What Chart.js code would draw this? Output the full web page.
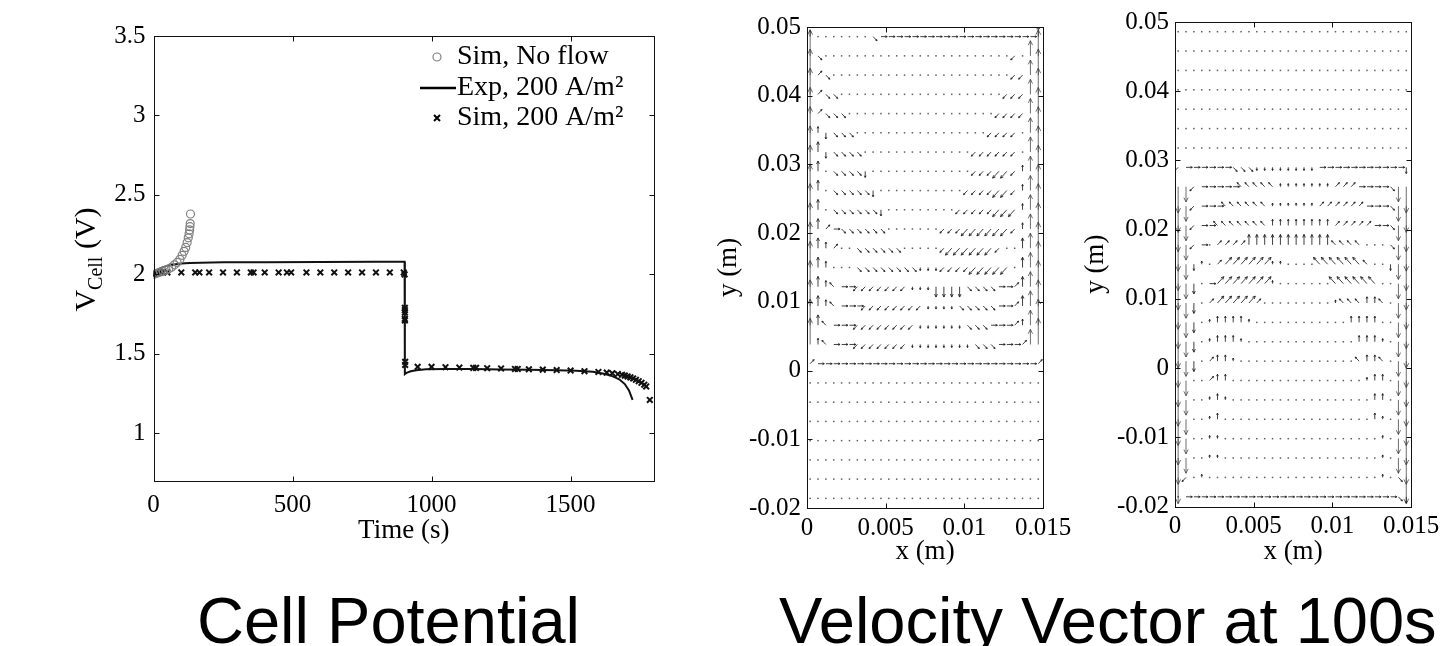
<!DOCTYPE html>
<html><head><meta charset="utf-8">
<script src="https://cdn.jsdelivr.net/npm/chart.js@4.4.1/dist/chart.umd.min.js"></script>
<style>
html,body{margin:0;padding:0;background:#fff;}
#wrap{position:relative;width:1450px;height:646px;overflow:hidden;background:#fff;}
canvas{position:absolute;top:0;}
.cap{position:absolute;font-family:"Liberation Sans",Arial,sans-serif;font-size:65px;line-height:65px;color:#000;white-space:nowrap;}
</style></head><body>
<div id="wrap">
<canvas id="c1" width="700" height="575" style="left:0px"></canvas>
<canvas id="c2" width="400" height="575" style="left:690px"></canvas>
<canvas id="c3" width="390" height="575" style="left:1060px"></canvas>
<div class="cap" style="left:197px;top:588px">Cell Potential</div>
<div class="cap" style="left:779px;top:588px">Velocity Vector at 100s</div>
</div>
<script>
// ---------------- Cell potential data ----------------
const noFlowT = [0, 8, 16, 25, 35, 45, 55, 65, 75, 85, 95, 103, 110, 116, 121, 125, 128, 130, 131, 132, 133];
const noFlowV = [2.0, 2.005, 2.01, 2.015, 2.02, 2.027, 2.035, 2.045, 2.06, 2.075, 2.095, 2.12, 2.145, 2.17, 2.2, 2.23, 2.255, 2.28, 2.3, 2.32, 2.38];

const expT = [0, 5, 10, 20, 30, 45, 60, 80, 100, 130, 170, 250, 400, 600, 800, 903, 904, 906, 912, 925, 945, 980, 1050, 1150, 1250, 1350, 1450, 1520, 1580, 1620, 1650, 1675, 1695, 1710, 1723];
const expV = [2.0, 2.012, 2.022, 2.035, 2.043, 2.052, 2.058, 2.064, 2.068, 2.072, 2.074, 2.076, 2.077, 2.078, 2.079, 2.08, 1.373, 1.376, 1.382, 1.39, 1.397, 1.403, 1.405, 1.404, 1.402, 1.4, 1.397, 1.393, 1.387, 1.375, 1.36, 1.34, 1.31, 1.27, 1.21];

const simT = [0, 3, 6, 10, 14, 18, 23, 28, 35, 50, 100, 150, 165, 200, 250, 300, 350, 360, 400, 450, 480, 495, 550, 600, 650, 700, 750, 800, 850, 900,
  903, 904, 904, 904, 904, 904, 905, 905,
  950, 1000, 1050, 1100, 1150, 1160, 1200, 1250, 1300, 1310, 1350, 1400, 1450, 1500, 1550, 1600, 1630, 1650, 1670, 1685, 1695, 1705, 1715, 1725, 1735, 1745, 1755, 1765, 1772, 1785];
const simV = [2.0, 2.0, 2.003, 2.006, 2.008, 2.01, 2.012, 2.013, 2.013, 2.012, 2.012, 2.012, 2.012, 2.012, 2.012, 2.012, 2.012, 2.012, 2.012, 2.012, 2.012, 2.012, 2.012, 2.012, 2.012, 2.012, 2.012, 2.012, 2.012, 2.012,
  2.0, 1.79, 1.775, 1.76, 1.72, 1.71, 1.45, 1.43,
  1.418, 1.418, 1.416, 1.414, 1.412, 1.412, 1.41, 1.408, 1.405, 1.405, 1.403, 1.401, 1.398, 1.395, 1.391, 1.386, 1.382, 1.378, 1.373, 1.368, 1.363, 1.358, 1.352, 1.345, 1.337, 1.328, 1.318, 1.306, 1.295, 1.21];

const seriesNames = ['Sim, No flow', 'Exp, 200 A/m\u00B2', 'Sim, 200 A/m\u00B2'];
const timeTicks = [0, 500, 1000, 1500];
const timeTickLabels = ['0', '500', '1000', '1500'];
const vTicks = [1, 1.5, 2, 2.5, 3, 3.5];
const vTickLabels = ['1', '1.5', '2', '2.5', '3', '3.5'];

// ---------------- Velocity vector data ----------------
const gridX = [0.0002, 0.0007, 0.0012, 0.0017, 0.0022, 0.0027, 0.0032, 0.0037, 0.0042, 0.0047, 0.0052, 0.0057, 0.0062, 0.0067, 0.0072, 0.0077, 0.0082, 0.0087, 0.0092, 0.0097, 0.0102, 0.0107, 0.0112, 0.0117, 0.0122, 0.0127, 0.0132, 0.0137, 0.0142, 0.0147];
const gridY = [0.0486, 0.0458, 0.0430, 0.0402, 0.0374, 0.0346, 0.0318, 0.0290, 0.0262, 0.0234, 0.0206, 0.0178, 0.0150, 0.0122, 0.0094, 0.0066, 0.0038, 0.0010, -0.0018, -0.0046, -0.0074, -0.0102, -0.0130, -0.0158, -0.0186];
// glyph -> [u, v] in units of 0.1 mm (arrow displacement)
const VEC = {
  '.': [0, 0], '-': [4, 0],
  '2': [0, -9], '8': [0, 9], '1': [-2.5, -6], '3': [2.5, -6], '7': [-2.5, 6], '9': [2.5, 6],
  'i': [0, 4.5], '!': [0, -4.5],
  'd': [0, -15], 'u': [0, 15],
  'l': [-4, -10], 'r': [4, -10], 'L': [-4, 10], 'R': [4, 10],
  'v': [0, -22], '^': [0, 22],
  'D': [0, -38], 'U': [0, 38]
};
// rows from top (y=0.0486) to bottom (y=-0.0186); "(n c)" = n copies of c
const fieldA = [
  "8(7.)3(20-)u",
  "U3(24.)1.^U",
  "U93(23.)11^U",
  "U933(21.)111^U",
  "U9333(19.)1111^U",
  "U82333(17.)1111.^U",
  "Uu23333(14.)111111.^U",
  "Uu.33332(13.)111ll18^U",
  "Uu.333332(11.)1111ll18^U",
  "Uu.3333332(9.)11111lll8^U",
  "Uu9-333333(7.)111llllll18^U",
  "Uu89..333333(5.)1llllll1..u^U",
  "Uu8...33333333!!!1111lllll.u^U",
  "Uu87--1111111!!!dddd3333--9u^U",
  "Uu87---11111111!!!!33333--9u^U",
  "Uu7---11111111!!!!!!333---98^U",
  "U87---1111111!!!!!!!!333---9^U",
  "9(28-)9",
  "(30.)", "(30.)", "(30.)", "(30.)", "(30.)", "(30.)", "(30.)"
];
const fieldB = [
  "(30.)", "(30.)", "(30.)", "(30.)", "(30.)", "(30.)", "(30.)",
  "1(6-)333(8!)(11-)2",
  "Dv1(5-)77777(7i)999(4-)3vD",
  "Dv1(3-)777777(6i)999999(3-)3vD",
  "Dv1--77777778888888899999--3vD",
  "Dv1-.9999(11u)7777...3vD",
  "Dv2i.9RRRRRRii....LLLLLL7..2vD",
  "Dvd.-RRRRRRRi(7.)LLLLLL..vD",
  "Dvd.9RRRRR9(9.)i777887.vD",
  "Dvd.i8888i(12.)8888..vD",
  "Dvd.i888i(14.)888i.vD",
  "Dvd.988i(15.)7887.vD",
  "Dv..988(17.)i88.vD",
  "Dv..i8i(18.)88.vD",
  "Dv..i8(19.)8i.vD",
  "Dv..ii(20.)i.vD",
  "Dv..ii(20.)i.vD",
  "D1.i(22.)i.3D",
  ".(27-)32"
];
const xTicksQ = [0, 0.005, 0.01, 0.015];
const xTickLabelsQ = ['0', '0.005', '0.01', '0.015'];
const yTicksQ = [-0.02, -0.01, 0, 0.01, 0.02, 0.03, 0.04, 0.05];
const yTickLabelsQ = ['-0.02', '-0.01', '0', '0.01', '0.02', '0.03', '0.04', '0.05'];
const QK = 0.0001; // metres per vector unit

// ---------------- helpers ----------------
const SERIF = '"Liberation Serif", "Times New Roman", serif';
Chart.defaults.color = '#000';
const zip = (a, b) => a.map((v, i) => ({x: v, y: b[i]}));
function expandRow(s) {
  let out = s.replace(/\((\d+)(.)\)/g, (m, n, c) => c.repeat(+n));
  if (out.length < 30) out += '.'.repeat(30 - out.length);
  return out.slice(0, 30);
}

const boxPlugin = {
  id: 'box',
  afterDraw(chart) {
    const {ctx, chartArea: a, scales: {x, y}} = chart;
    ctx.save();
    ctx.strokeStyle = '#111'; ctx.lineWidth = 1;
    const L = Math.round(a.left) + 0.5, T = Math.round(a.top) + 0.5, R = Math.round(a.right) + 0.5, B = Math.round(a.bottom) + 0.5;
    ctx.strokeRect(L, T, R - L, B - T);
    const tl = 5;
    ctx.beginPath();
    x.ticks.forEach(t => {
      const p = Math.round(x.getPixelForValue(t.value)) + 0.5;
      ctx.moveTo(p, T); ctx.lineTo(p, T + tl);
      ctx.moveTo(p, B); ctx.lineTo(p, B - tl);
    });
    y.ticks.forEach(t => {
      const p = Math.round(y.getPixelForValue(t.value)) + 0.5;
      ctx.moveTo(L, p); ctx.lineTo(L + tl, p);
      ctx.moveTo(R, p); ctx.lineTo(R - tl, p);
    });
    ctx.stroke();
    ctx.restore();
  }
};

const legendPlugin = {
  id: 'legendBox',
  afterDraw(chart) {
    const {ctx, chartArea: a} = chart;
    const x0 = a.right - 197;
    const rows = [a.top + 21, a.top + 52, a.top + 82];
    ctx.save();
    ctx.font = '28px ' + SERIF; ctx.textBaseline = 'middle'; ctx.fillStyle = '#000';
    chart.data.datasets.forEach((d, i) => ctx.fillText(d.label, x0, rows[i]));
    ctx.strokeStyle = '#808080'; ctx.lineWidth = 1.2;
    ctx.beginPath(); ctx.arc(x0 - 20, rows[0], 4, 0, Math.PI * 2); ctx.stroke();
    ctx.strokeStyle = '#000'; ctx.lineWidth = 2.5;
    ctx.beginPath(); ctx.moveTo(x0 - 37, rows[1]); ctx.lineTo(x0 - 1, rows[1]); ctx.stroke();
    ctx.lineWidth = 2;
    const c = x0 - 20, r = rows[2], s = 3;
    ctx.beginPath(); ctx.moveTo(c - s, r - s); ctx.lineTo(c + s, r + s); ctx.moveTo(c + s, r - s); ctx.lineTo(c - s, r + s); ctx.stroke();
    ctx.restore();
  }
};

const vTitlePlugin = {
  id: 'vtitle',
  afterDraw(chart) {
    const ctx = chart.ctx;
    const a = chart.chartArea;
    ctx.save();
    ctx.translate(85, (a.top + a.bottom) / 2 + 1);
    ctx.rotate(-Math.PI / 2);
    ctx.fillStyle = '#000';
    const big = '30px ' + SERIF, small = '20px ' + SERIF;
    ctx.font = big; const wV = ctx.measureText('V').width; const wP = ctx.measureText(' (V)').width;
    ctx.font = small; const wC = ctx.measureText('Cell').width;
    let x = -(wV + wC + wP) / 2;
    ctx.font = big; ctx.fillText('V', x, 10); x += wV;
    ctx.font = small; ctx.fillText('Cell', x, 17); x += wC;
    ctx.font = big; ctx.fillText(' (V)', x, 10);
    ctx.restore();
  }
};

const quiverPlugin = {
  id: 'quiver',
  afterDatasetsDraw(chart) {
    const {ctx, chartArea: a, scales: {x, y}} = chart;
    const meta = chart.getDatasetMeta(0);
    const data = chart.data.datasets[0].data;
    ctx.save();
    ctx.beginPath(); ctx.rect(a.left, a.top, a.right - a.left, a.bottom - a.top); ctx.clip();
    ctx.lineWidth = 1;
    data.forEach((d, i) => {
      const el = meta.data[i];
      const x0 = el.x, y0 = el.y;
      if (d.u === 0 && d.v === 0) {
        ctx.fillStyle = 'rgba(40,40,40,0.75)';
        ctx.fillRect(x0 - 0.75, y0 - 0.75, 1.5, 1.5);
        return;
      }
      const x1 = x.getPixelForValue(d.x + d.u * QK), y1 = y.getPixelForValue(d.y + d.v * QK);
      const dx = x1 - x0, dy = y1 - y0, len = Math.hypot(dx, dy);
      ctx.strokeStyle = len > 14 ? 'rgba(60,60,60,0.75)' : 'rgba(30,30,30,0.85)';
      const h = Math.min(Math.max(len * 0.32, 1.8), 5.5), ang = Math.atan2(dy, dx), w = 0.45;
      ctx.beginPath();
      ctx.moveTo(x0, y0); ctx.lineTo(x1, y1);
      ctx.moveTo(x1 - h * Math.cos(ang - w), y1 - h * Math.sin(ang - w));
      ctx.lineTo(x1, y1);
      ctx.lineTo(x1 - h * Math.cos(ang + w), y1 - h * Math.sin(ang + w));
      ctx.stroke();
    });
    ctx.restore();
  }
};

const tickFont = {family: SERIF, size: 25};
const titleFont = {family: SERIF, size: 27};

// ---------------- Chart 1: cell potential ----------------
new Chart(document.getElementById('c1'), {
  type: 'scatter',
  data: {
    datasets: [
      {label: seriesNames[0], data: zip(noFlowT, noFlowV), pointStyle: 'circle', pointRadius: 4, borderColor: '#808080', backgroundColor: 'rgba(0,0,0,0)', borderWidth: 1.2, showLine: false},
      {label: seriesNames[1], data: zip(expT, expV), showLine: true, borderColor: '#111', borderWidth: 2, pointRadius: 0, tension: 0},
      {label: seriesNames[2], data: zip(simT, simV), pointStyle: 'crossRot', pointRadius: 4, borderColor: '#111', backgroundColor: '#111', borderWidth: 2, showLine: false}
    ]
  },
  options: {
    responsive: false, animation: false, events: [],
    plugins: {legend: {display: false}, tooltip: {enabled: false}},
    layout: {padding: {top: 36, right: 46, left: 0, bottom: 0}},
    scales: {
      x: {
        type: 'linear', min: 0, max: 1800,
        afterBuildTicks: s => { s.ticks = timeTicks.map(v => ({value: v})); },
        ticks: {font: tickFont, color: '#000', padding: 9, maxRotation: 0, autoSkip: false, callback: (v, i) => timeTickLabels[i]},
        grid: {display: false, drawTicks: false}, border: {display: false},
        title: {display: true, text: 'Time (s)', font: titleFont, color: '#000', padding: {top: 0, bottom: 28}},
        afterFit: s => { s.height = 94; }
      },
      y: {
        type: 'linear', min: 0.7, max: 3.5,
        afterBuildTicks: s => { s.ticks = vTicks.map(v => ({value: v})); },
        ticks: {font: tickFont, color: '#000', padding: 8, autoSkip: false, callback: (v, i) => vTickLabels[i]},
        grid: {display: false, drawTicks: false}, border: {display: false},
        afterFit: s => { s.width = 153.5; }
      }
    }
  },
  plugins: [boxPlugin, legendPlugin, vTitlePlugin]
});

// ---------------- Charts 2 & 3: velocity vectors ----------------
function quiverChart(id, rows, o) {
  const pts = [];
  rows.forEach((r, j) => {
    const s = expandRow(r);
    for (let i = 0; i < 30; i++) {
      const c = VEC[s[i]] || [0, 0];
      pts.push({x: gridX[i], y: gridY[j], u: c[0], v: c[1]});
    }
  });
  return new Chart(document.getElementById(id), {
    type: 'scatter',
    data: {datasets: [{label: 'velocity', data: pts, pointRadius: 0, pointHoverRadius: 0}]},
    options: {
      responsive: false, animation: false, events: [],
      plugins: {legend: {display: false}, tooltip: {enabled: false}},
      layout: {padding: {top: o.top, right: o.right, left: 0, bottom: 0}},
      scales: {
        x: {
          type: 'linear', min: 0, max: 0.015,
          afterBuildTicks: s => { s.ticks = xTicksQ.map(v => ({value: v})); },
          ticks: {font: tickFont, color: '#000', padding: 5, maxRotation: 0, autoSkip: false, callback: (v, i) => xTickLabelsQ[i]},
          grid: {display: false, drawTicks: false}, border: {display: false},
          title: {display: true, text: 'x (m)', font: titleFont, color: '#000', padding: {top: 0, bottom: 7}},
          afterFit: s => { s.height = o.xh; }
        },
        y: {
          type: 'linear', min: -0.02, max: 0.05,
          afterBuildTicks: s => { s.ticks = yTicksQ.map(v => ({value: v})); },
          ticks: {font: tickFont, color: '#000', padding: 6, autoSkip: false, callback: (v, i) => yTickLabelsQ[i]},
          grid: {display: false, drawTicks: false}, border: {display: false},
          title: {display: true, text: 'y (m)', font: titleFont, color: '#000', padding: {top: o.tp, bottom: 0}},
          afterFit: s => { s.width = o.yw; }
        }
      }
    },
    plugins: [quiverPlugin, boxPlugin]
  });
}
quiverChart('c2', fieldA, {top: 27, right: 47, xh: 67, yw: 117, tp: 22.8});
quiverChart('c3', fieldB, {top: 22, right: 39, xh: 68.5, yw: 115, tp: 19.8});
</script>
</body></html>
